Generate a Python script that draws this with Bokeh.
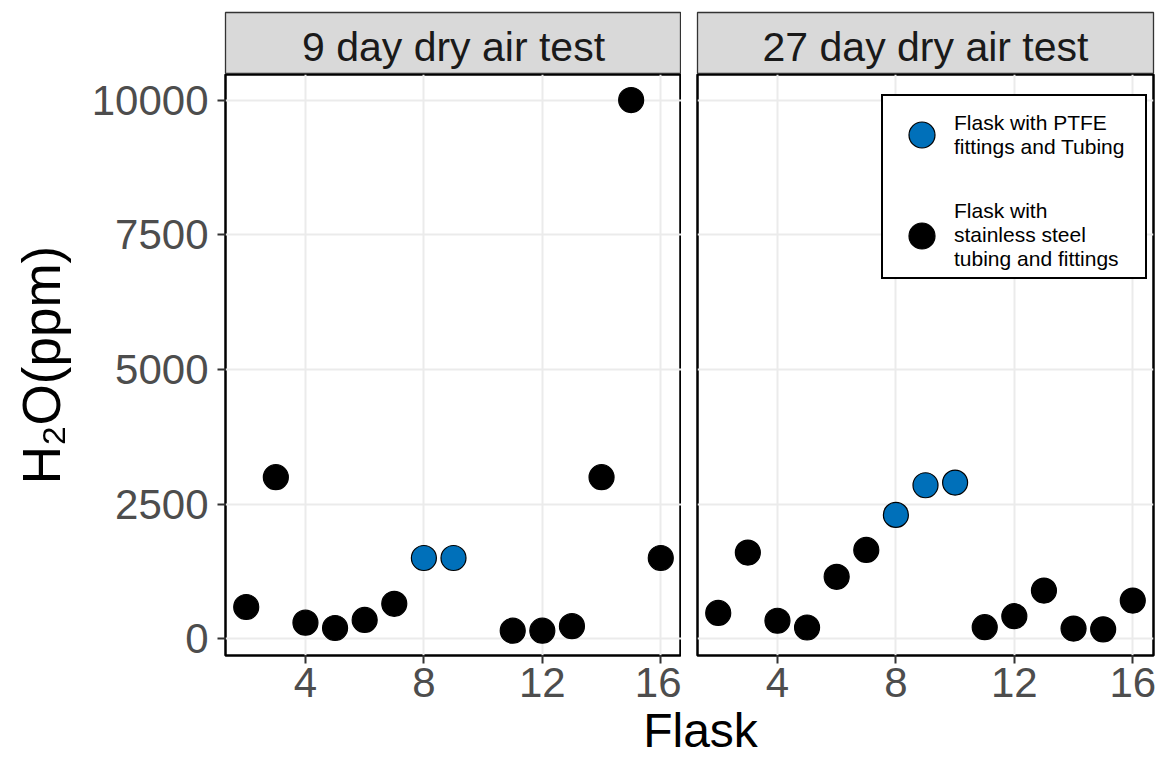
from bokeh.plotting import figure
from bokeh.layouts import row, column
from bokeh.models import (ColumnDataSource, FixedTicker, Label, Legend, LegendItem,
                          Range1d)
from bokeh.embed import file_html
from bokeh.resources import INLINE

# ---- data -------------------------------------------------------------
flask_9d = [2, 3, 4, 5, 6, 7, 8, 9, 11, 12, 13, 14, 15, 16]
h2o_9d = [590, 3000, 300, 200, 350, 650, 1500, 1500, 150, 150, 235, 3000, 10000, 1500]
fit_9d = ["steel", "steel", "steel", "steel", "steel", "steel", "ptfe", "ptfe",
          "steel", "steel", "steel", "steel", "steel", "steel"]

flask_27d = [2, 3, 4, 5, 6, 7, 8, 9, 10, 11, 12, 13, 14, 15, 16]
h2o_27d = [480, 1600, 335, 210, 1150, 1650, 2300, 2850, 2900, 215, 420, 895, 190, 175, 710]
fit_27d = ["steel", "steel", "steel", "steel", "steel", "steel", "ptfe", "ptfe", "ptfe",
           "steel", "steel", "steel", "steel", "steel", "steel"]

panel_titles = ["9 day dry air test", "27 day dry air test"]
x_ticks = [4, 8, 12, 16]
y_ticks = [0, 2500, 5000, 7500, 10000]
x_limits = (1.3, 16.7)
y_limits = (-310, 10474)

legend_labels = {
    "ptfe": "Flask with PTFE\nfittings and Tubing",
    "steel": "Flask with\nstainless steel\ntubing and fittings",
}
fill_colors = {"ptfe": "#0070BA", "steel": "#000000"}

FONT = "Liberation Sans"
LEFT_W = 225
GAP = 16
RIGHT_PAD = 7
FRAME_W = 456
STRIP_TOP = 12
STRIP_H = 62
FRAME_H = 581
BOTTOM_H = 58
TOTAL_H = 757
TITLE_OVERLAP = 14


def strip(title, left, right):
    s = figure(frame_width=FRAME_W, frame_height=STRIP_H,
               min_border_left=left, min_border_right=right,
               min_border_top=STRIP_TOP, min_border_bottom=0,
               x_range=Range1d(0, 1), y_range=Range1d(0, STRIP_H),
               x_axis_location=None, y_axis_location=None,
               toolbar_location=None, output_backend="svg")
    s.xgrid.visible = False
    s.ygrid.visible = False
    s.background_fill_color = "#D9D9D9"
    s.border_fill_color = "white"
    s.outline_line_color = "#333333"
    s.outline_line_width = 1.3
    s.add_layout(Label(x=0.5, y=28, text=title, text_align="center",
                       text_baseline="middle", text_font=FONT,
                       text_font_size="41px", text_color="#1A1A1A"))
    return s


def panel(xs, ys, groups, left, right, with_y_axis):
    p = figure(frame_width=FRAME_W, frame_height=FRAME_H,
               min_border_left=left, min_border_right=right,
               min_border_top=0, min_border_bottom=BOTTOM_H,
               x_range=Range1d(*x_limits), y_range=Range1d(*y_limits),
               y_axis_location="left" if with_y_axis else None,
               toolbar_location=None, output_backend="svg")
    p.background_fill_color = "white"
    p.border_fill_color = "white"
    p.outline_line_color = "black"
    p.outline_line_width = 2.5

    p.xgrid.ticker = FixedTicker(ticks=x_ticks)
    p.ygrid.ticker = FixedTicker(ticks=y_ticks)
    for g in (p.xgrid[0], p.ygrid[0]):
        g.grid_line_color = "#EBEBEB"
        g.grid_line_width = 2
        g.minor_grid_line_color = None

    axes = [p.xaxis[0]]
    p.xaxis[0].ticker = FixedTicker(ticks=x_ticks)
    if with_y_axis:
        p.yaxis[0].ticker = FixedTicker(ticks=y_ticks)
        axes.append(p.yaxis[0])
    for ax in axes:
        ax.axis_line_color = None
        ax.major_tick_line_color = "#333333"
        ax.major_tick_line_width = 2
        ax.major_tick_out = 8
        ax.major_tick_in = 0
        ax.minor_tick_line_color = None
        ax.major_label_text_font = FONT
        ax.major_label_text_font_size = "42px"
        ax.major_label_text_color = "#4D4D4D"
    p.xaxis[0].major_label_standoff = 4
    if with_y_axis:
        ya = p.yaxis[0]
        ya.major_label_standoff = 9
        ya.axis_label = "H\u2082O(ppm)"
        ya.axis_label_text_font = FONT
        ya.axis_label_text_font_size = "53px"
        ya.axis_label_text_font_style = "normal"
        ya.axis_label_text_color = "black"
        ya.axis_label_standoff = 18

    renderers = {}
    for grp in ("steel", "ptfe"):
        sel = [i for i, g in enumerate(groups) if g == grp]
        src = ColumnDataSource(dict(x=[xs[i] for i in sel], y=[ys[i] for i in sel]))
        renderers[grp] = p.scatter("x", "y", source=src, size=25,
                                   fill_color=fill_colors[grp],
                                   line_color="black", line_width=1.2)
    return p, renderers


s1 = strip(panel_titles[0], LEFT_W, 0)
s2 = strip(panel_titles[1], GAP, RIGHT_PAD)
p1, _ = panel(flask_9d, h2o_9d, fit_9d, LEFT_W, 0, True)
p2, r2 = panel(flask_27d, h2o_27d, fit_27d, GAP, RIGHT_PAD, False)

legend = Legend(
    items=[LegendItem(label=legend_labels["ptfe"], renderers=[r2["ptfe"]]),
           LegendItem(label=legend_labels["steel"], renderers=[r2["steel"]])],
    location=(184, 376), margin=0, padding=6, spacing=32,
    glyph_width=65, glyph_height=65, label_standoff=0, label_width=185,
    label_text_font=FONT, label_text_font_size="21px", label_text_color="black",
    label_text_line_height=1.25,
    border_line_color="black", border_line_width=2, border_line_alpha=1.0,
    background_fill_color="white", background_fill_alpha=1.0,
)
p2.add_layout(legend)

# shared x-axis title centred under both panels; its transparent canvas
# tucks slightly under the tick-label band so the whole word fits
full_w = LEFT_W + FRAME_W + GAP + FRAME_W + RIGHT_PAD
title_h = TOTAL_H - STRIP_TOP - STRIP_H - FRAME_H - BOTTOM_H + TITLE_OVERLAP
ft = figure(frame_width=full_w, frame_height=title_h,
            min_border_left=0, min_border_right=0, min_border_top=0, min_border_bottom=0,
            x_range=Range1d(0, full_w), y_range=Range1d(0, title_h),
            x_axis_location=None, y_axis_location=None,
            toolbar_location=None, output_backend="svg",
            margin=(-TITLE_OVERLAP, 0, 0, 0))
ft.xgrid.visible = False
ft.ygrid.visible = False
ft.outline_line_color = None
ft.border_fill_alpha = 0
ft.background_fill_alpha = 0
ft.add_layout(Label(x=700, y=27, text="Flask", text_align="center",
                    text_baseline="middle", text_font=FONT,
                    text_font_size="48px", text_color="black"))

layout = column(row(s1, s2), row(p1, p2), ft)

with open("out.html", "w") as f:
    f.write(file_html(layout, INLINE))
